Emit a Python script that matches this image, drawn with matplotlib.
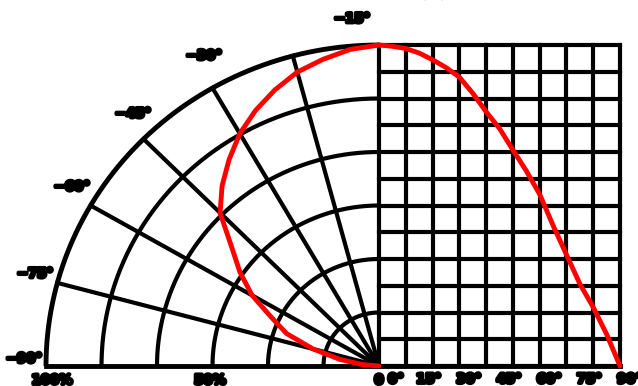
import numpy as np
import matplotlib
matplotlib.use("Agg")
import matplotlib.pyplot as plt
import matplotlib.patheffects as pe


# relative intensity vs angle
angle_deg = [0, 5, 10, 15, 20, 25, 30, 35, 40, 45, 50, 55, 60, 65, 70, 75, 80, 85, 90]
intensity_pct = [100, 99.6, 98.9, 97.5, 95.4, 93.0, 90.0, 85.0, 79.2, 74.0,
                 67.3, 60.8, 53.5, 43.8, 34.7, 25.6, 18.3, 9.9, 0]

# same pattern as drawn on the polar half (left)
polar_radius_pct = [100, 99.0, 97.0, 94.8, 91.5, 87.8, 83.6, 78.5, 73.3, 67.5,
                    57.8, 51.0, 44.0, 35.5, 29.5, 20.5, 12.0, 5.0, 0]

polar_labels = ["−15°", "−30°", "−45°", "−60°", "−75°", "−90°"]
angle_tick_labels = ["0°", "15°", "30°", "45°", "60°", "75°", "90°"]
radius_labels = ["100%", "50%", "0"]

# layout (data units: polar radius = 1)
W_PX, H_PX = 638, 386
CX, CY = 379, 366          # polar centre in pixels
RX, RY = 333, 321          # polar radius in pixels (x, y)
GRID_W = 241 / RX          # width of the cartesian grid
N_COLS, N_ROWS = 9, 12
N_RINGS = 6
LW = 3.0
RED = "#ff0000"


def px_x(p):
    return (p - CX) / RX


def px_y(p):
    return (CY - p) / RY


fig = plt.figure(figsize=(W_PX / 100, H_PX / 100), dpi=100)
ax = fig.add_axes([0, 0, 1, 1])
ax.set_xlim(px_x(0), px_x(W_PX))
ax.set_ylim(px_y(H_PX), px_y(0))
ax.axis("off")

# polar half: rings and spokes
t = np.linspace(0, np.pi / 2, 200)
for i in range(1, N_RINGS + 1):
    r = i / N_RINGS
    ax.plot(-r * np.sin(t), r * np.cos(t), color="black",
            lw=LW + (0.5 if i == N_RINGS else 0), solid_capstyle="butt")
for a in range(15, 90, 15):
    th = np.radians(a)
    ax.plot([0, -np.sin(th)], [0, np.cos(th)], color="black", lw=LW)

# cartesian half: grid
for i in range(N_COLS + 1):
    x = GRID_W * i / N_COLS
    ax.plot([x, x], [0, 1], color="black", lw=LW, solid_capstyle="projecting")
for j in range(N_ROWS + 1):
    y = j / N_ROWS
    ax.plot([0, GRID_W], [y, y], color="black", lw=LW, solid_capstyle="projecting")
# bottom base line across both halves
ax.plot([-1, GRID_W], [0, 0], color="black", lw=LW + 0.5, solid_capstyle="projecting")

# red curves
ang = np.radians(angle_deg)
rp = np.array(polar_radius_pct) / 100
ax.plot(-rp * np.sin(ang), rp * np.cos(ang), color=RED, lw=3.5, zorder=5,
        solid_capstyle="round", solid_joinstyle="round")
xs = np.array(angle_deg) / 90 * GRID_W
ax.plot(xs, np.array(intensity_pct) / 100, color=RED, lw=3.5, zorder=5,
        solid_capstyle="round", solid_joinstyle="round")

# labels
fx = [pe.withStroke(linewidth=2.8, foreground="black")]
txt = dict(fontsize=9.5, fontweight="black", color="black", path_effects=fx, zorder=6)

label_pos_px = [(352, 19), (204, 56), (133, 114), (72, 187), (35, 274), (24, 359)]
for lab, (px, py) in zip(polar_labels, label_pos_px):
    ax.text(px_x(px), px_y(py), lab, ha="center", va="center", **txt)

ax.text(px_x(52), px_y(374), radius_labels[0], ha="center", va="top", **txt)
ax.text(px_x(210), px_y(374), radius_labels[1], ha="center", va="top", **txt)
ax.text(px_x(379), px_y(374), radius_labels[2], ha="center", va="top", **txt)

for k, lab in enumerate(angle_tick_labels):
    x = GRID_W * k / (len(angle_tick_labels) - 1)
    off = 9 if k == 0 else -3
    ax.text(x + off / RX, px_y(373), lab, ha="left", va="top", **txt)

# axis title, mostly cut off at the top edge
fig.text(425 / W_PX, 1 - 2 / H_PX, "Iv (%)", ha="center", va="bottom",
         fontsize=10, color="#bbbbbb")

fig.savefig("out.png", dpi=100)
